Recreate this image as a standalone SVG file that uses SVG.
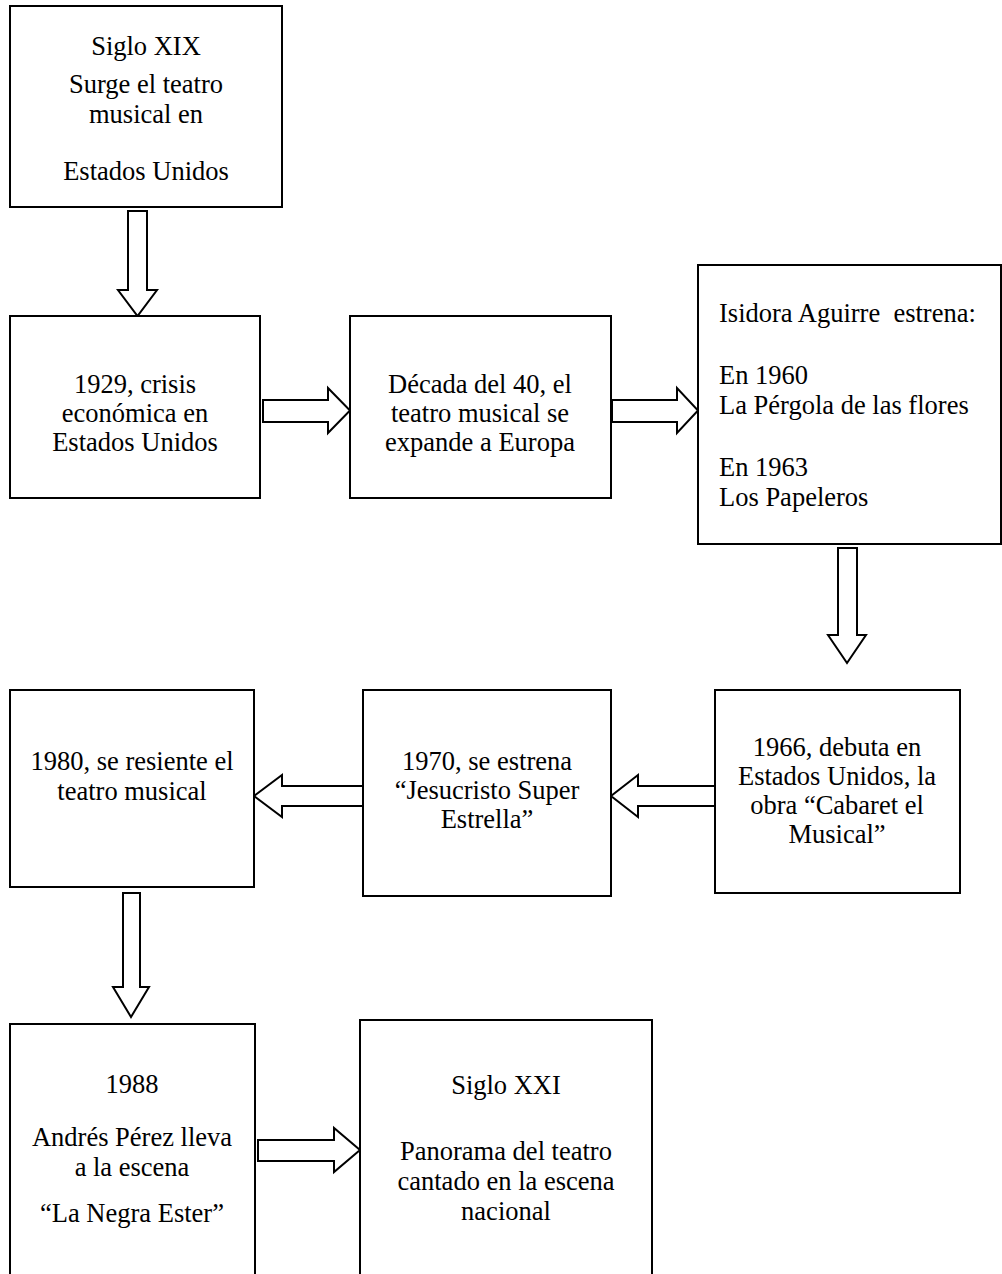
<svg xmlns="http://www.w3.org/2000/svg" width="1002" height="1274" viewBox="0 0 1002 1274">
<style>
.box{fill:#fff;stroke:#000;stroke-width:2}
.arr{fill:#fff;stroke:#000;stroke-width:2;stroke-linejoin:miter}
text{font-family:"Liberation Serif","Times New Roman",serif;font-size:26.5px;fill:#000}
.c{text-anchor:middle}
</style>
<rect width="1002" height="1274" fill="#fff"/>
<g id="connectors">
<polygon class="arr" points="128,211 147,211 147,290 157,290 137.5,316 118,290 128,290"/>
<polygon class="arr" points="263,400 328,400 328,388 350,410.5 328,433 328,422 263,422"/>
<polygon class="arr" points="612,400 677,400 677,388 698,410.5 677,433 677,422 612,422"/>
<polygon class="arr" points="838,548 857,548 857,635 866,635 847,663 828,635 838,635"/>
<polygon class="arr" points="715,786 638,786 638,775 611,796 638,817 638,806 715,806"/>
<polygon class="arr" points="363,786 282,786 282,775 254,796 282,817 282,806 363,806"/>
<polygon class="arr" points="123,893 140,893 140,987 149,987 131,1017 113,987 123,987"/>
<polygon class="arr" points="258,1140 334,1140 334,1128 360,1150 334,1172 334,1161 258,1161"/>
</g>
<g id="n1">
<rect class="box" x="10" y="6" width="272" height="201"/>
<text class="c" x="146" y="55">Siglo XIX</text>
<text class="c" x="146" y="93">Surge el teatro</text>
<text class="c" x="146" y="123">musical en</text>
<text class="c" x="146" y="180">Estados Unidos</text>
</g>
<g id="n2">
<rect class="box" x="10" y="316" width="250" height="182"/>
<text class="c" x="135" y="393">1929, crisis</text>
<text class="c" x="135" y="422">económica en</text>
<text class="c" x="135" y="451">Estados Unidos</text>
</g>
<g id="n3">
<rect class="box" x="350" y="316" width="261" height="182"/>
<text class="c" x="480" y="393">Década del 40, el</text>
<text class="c" x="480" y="422">teatro musical se</text>
<text class="c" x="480" y="451">expande a Europa</text>
</g>
<g id="n4">
<rect class="box" x="698" y="265" width="303" height="279"/>
<text x="719" y="322" xml:space="preserve">Isidora Aguirre  estrena:</text>
<text x="719" y="384">En 1960</text>
<text x="719" y="414">La Pérgola de las flores</text>
<text x="719" y="476">En 1963</text>
<text x="719" y="506">Los Papeleros</text>
</g>
<g id="n5">
<rect class="box" x="715" y="690" width="245" height="203"/>
<text class="c" x="837" y="756">1966, debuta en</text>
<text class="c" x="837" y="785">Estados Unidos, la</text>
<text class="c" x="837" y="814">obra “Cabaret el</text>
<text class="c" x="837" y="843">Musical”</text>
</g>
<g id="n6">
<rect class="box" x="363" y="690" width="248" height="206"/>
<text class="c" x="487" y="770">1970, se estrena</text>
<text class="c" x="487" y="799">“Jesucristo Super</text>
<text class="c" x="487" y="828">Estrella”</text>
</g>
<g id="n7">
<rect class="box" x="10" y="690" width="244" height="197"/>
<text class="c" x="132" y="770">1980, se resiente el</text>
<text class="c" x="132" y="800">teatro musical</text>
</g>
<g id="n8">
<rect class="box" x="10" y="1024" width="245" height="270"/>
<text class="c" x="132" y="1093">1988</text>
<text class="c" x="132" y="1146">Andrés Pérez lleva</text>
<text class="c" x="132" y="1176">a la escena</text>
<text class="c" x="132" y="1222">“La Negra Ester”</text>
</g>
<g id="n9">
<rect class="box" x="360" y="1020" width="292" height="274"/>
<text class="c" x="506" y="1094">Siglo XXI</text>
<text class="c" x="506" y="1160">Panorama del teatro</text>
<text class="c" x="506" y="1190">cantado en la escena</text>
<text class="c" x="506" y="1220">nacional</text>
</g>
</svg>
